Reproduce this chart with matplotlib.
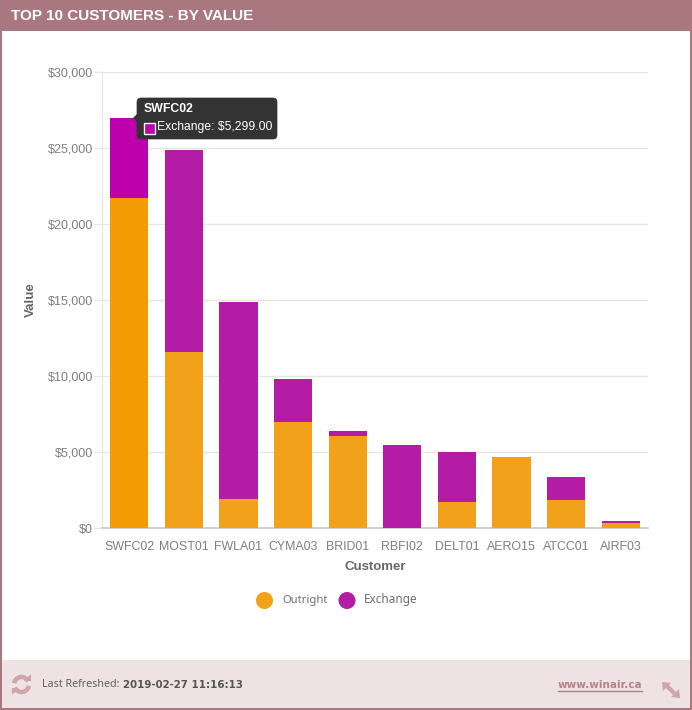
import matplotlib
matplotlib.use('Agg')
import matplotlib.pyplot as plt
from matplotlib.patches import Rectangle, FancyBboxPatch, Arc, Polygon, Circle

customers = ['SWFC02', 'MOST01', 'FWLA01', 'CYMA03', 'BRID01', 'RBFI02', 'DELT01', 'AERO15', 'ATCC01', 'AIRF03']
outright = [21680, 11600, 1900, 6950, 6020, 0, 1680, 4700, 1870, 300]
exchange = [5299, 13300, 13000, 2880, 380, 5490, 3350, 0, 1510, 130]
y_ticks = [0, 5000, 10000, 15000, 20000, 25000, 30000]

ORANGE = '#f2a11b'
ORANGE_HI = '#f29b05'
PURPLE = '#b41ca5'
PURPLE_HI = '#bd00ab'
FRAME = '#a9787f'
GREY = '#7f7f7f'

plt.rcParams['font.family'] = ['Liberation Sans', 'DejaVu Sans']

W, H = 692, 710
fig = plt.figure(figsize=(W / 100, H / 100), dpi=100, facecolor='white')

# page chrome drawn in pixel coords
bg = fig.add_axes([0, 0, 1, 1], zorder=0)
bg.set_xlim(0, W)
bg.set_ylim(H, 0)
bg.axis('off')
bg.add_patch(Rectangle((0, 0), W, 31, color=FRAME, lw=0))
bg.add_patch(Rectangle((0, 660), W, 50, color='#eee2e4', lw=0))
bg.add_patch(Rectangle((0, 0), 2, H, color=FRAME, lw=0))
bg.add_patch(Rectangle((W - 2, 0), 2, H, color=FRAME, lw=0))
bg.add_patch(Rectangle((0, 708), W, 2, color=FRAME, lw=0))
bg.text(11, 15.5, 'TOP 10 CUSTOMERS - BY VALUE', color='white', fontsize=11,
        fontweight='bold', va='center', ha='left')

# chart
ax = fig.add_axes([102 / W, 1 - 528 / H, 546 / W, 456 / H], zorder=1)
ax.patch.set_alpha(0)
x = list(range(len(customers)))
bars_o = ax.bar(x, outright, width=0.7, color=ORANGE, linewidth=0, zorder=3)
bars_e = ax.bar(x, exchange, width=0.7, bottom=outright, color=PURPLE, linewidth=0, zorder=3)
# hovered column is highlighted
bars_o[0].set_facecolor(ORANGE_HI)
bars_e[0].set_facecolor(PURPLE_HI)

ax.set_xlim(-0.5, 9.5)
ax.set_ylim(0, 30000)
ax.set_yticks(y_ticks)
ax.set_yticklabels(['$' + format(v, ',') for v in y_ticks])
ax.set_xticks(x)
ax.set_xticklabels(customers)
ax.tick_params(axis='y', length=5.5, color='#e6e6e6', width=1, labelsize=9, labelcolor=GREY, pad=1)
ax.tick_params(axis='x', length=0, labelsize=8.9, labelcolor=GREY, pad=9)
ax.grid(axis='y', color='#e6e6e6', linewidth=1, zorder=0)
for side in ['top', 'right']:
    ax.spines[side].set_visible(False)
ax.spines['left'].set_color('#e6e6e6')
ax.spines['bottom'].set_color('#c8c8c8')
ax.spines['bottom'].set_linewidth(1.2)
ax.set_axisbelow(True)

# overlay for axis titles, legend, tooltip, footer
fg = fig.add_axes([0, 0, 1, 1], zorder=2)
fg.set_xlim(0, W)
fg.set_ylim(H, 0)
fg.axis('off')
fg.text(31, 300, 'Value', rotation=90, color='#666666', fontsize=9.5, fontweight='bold',
        ha='center', va='center')
fg.text(375, 567, 'Customer', color='#666666', fontsize=9.5, fontweight='bold',
        ha='center', va='center')

fg.add_patch(Circle((264.5, 600.5), 8.5, color=ORANGE, lw=0))
fg.text(282, 600, 'Outright', color='#707070', fontsize=8.1, family='Noto Sans', ha='left', va='center')
fg.add_patch(Circle((347, 600.5), 8.5, color=PURPLE, lw=0))
fg.text(364, 600, 'Exchange', color='#707070', fontsize=8.5, family='Noto Sans', ha='left', va='center')

# tooltip
fg.add_patch(FancyBboxPatch((137, 98), 140, 41, boxstyle='round,pad=0,rounding_size=4',
                            fc='#333333', ec='#333333', lw=0.5, zorder=5))
fg.add_patch(Polygon([[138, 123], [133, 118], [138, 113]], fc='#333333', lw=0, zorder=5))
fg.text(144, 108.5, 'SWFC02', color='white', fontsize=8.8, fontweight='bold', va='center', zorder=6)
fg.add_patch(Rectangle((143.5, 122.5), 11, 11, fc=PURPLE_HI, ec='white', lw=1, zorder=6))
fg.text(157, 127, 'Exchange: $5,299.00', color='white', fontsize=8.7, va='center', zorder=6)

# footer
ICON = '#cda5aa'
fg.add_patch(Arc((21.5, 684.5), 15, 15, theta1=190, theta2=335, color=ICON, lw=3.2))
fg.add_patch(Arc((21.5, 684.5), 15, 15, theta1=10, theta2=155, color=ICON, lw=3.2))
fg.add_patch(Polygon([[24, 681], [31, 681], [31, 674]], color=ICON, lw=0))
fg.add_patch(Polygon([[12, 688], [19, 688], [12, 695]], color=ICON, lw=0))
fg.text(42, 684.5, 'Last Refreshed:', color='#5f5f5f', fontsize=7.7, family='Noto Sans', va='center')
fg.text(123, 684.5, '2019-02-27 11:16:13', color='#555555', fontsize=7.4, family='DejaVu Sans',
        fontweight='bold', va='center')
fg.text(642, 684.5, 'www.winair.ca', color='#b5838a', fontsize=7.5, family='DejaVu Sans',
        fontweight='bold', va='center', ha='right')
fg.plot([558, 642], [690.5, 690.5], color='#b5838a', lw=1)
fg.plot([667, 675], [686, 694], color=ICON, lw=3)
fg.add_patch(Polygon([[662, 682], [671, 683], [663, 691]], color=ICON, lw=0))
fg.add_patch(Polygon([[680, 698], [671, 697], [679, 689]], color=ICON, lw=0))

fig.savefig('out.png', dpi=100)
